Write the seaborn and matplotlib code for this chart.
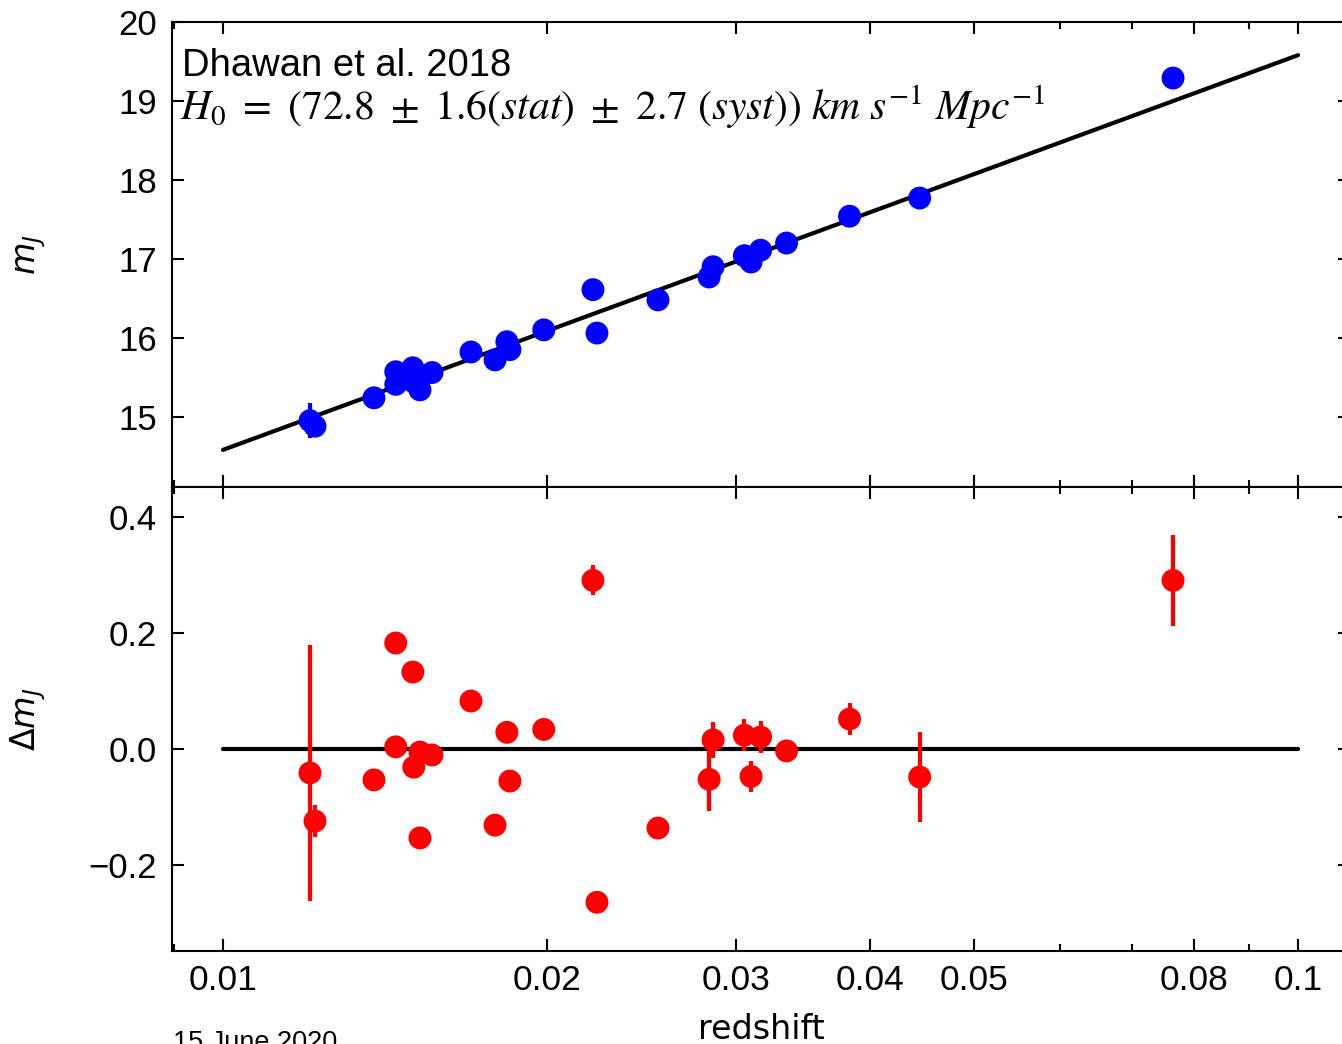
import numpy as np
import pandas as pd
import seaborn as sns
import matplotlib as mpl
mpl.use('Agg')
import matplotlib.pyplot as plt
from matplotlib.ticker import FixedLocator, FixedFormatter, NullFormatter

# redshift of each SN
z = [0.01205, 0.01218, 0.01382, 0.01448, 0.01448, 0.01502, 0.01505, 0.01525, 0.01525,
     0.01565, 0.01701, 0.01791, 0.01837, 0.01849, 0.01988, 0.02209, 0.02228, 0.02539,
     0.02833, 0.02857, 0.03055, 0.03099, 0.03163, 0.03344, 0.03827, 0.04447, 0.07651]
# apparent J-band magnitude
m_J = [14.95, 14.88, 15.24, 15.57, 15.41, 15.62, 15.44, 15.50, 15.34,
       15.56, 15.82, 15.72, 15.95, 15.85, 16.10, 16.61, 16.06, 16.48,
       16.77, 16.90, 17.04, 16.96, 17.11, 17.20, 17.54, 17.77, 19.29]
# residual from the Hubble line
dm_J = [-0.041, -0.124, -0.053, 0.183, 0.004, 0.133, -0.031, -0.005, -0.153,
        -0.010, 0.083, -0.131, 0.029, -0.055, 0.034, 0.291, -0.264, -0.136,
        -0.052, 0.016, 0.024, -0.047, 0.021, -0.003, 0.052, -0.048, 0.291]
err = [0.22, 0.028, 0.01, 0.01, 0.01, 0.01, 0.01, 0.01, 0.01,
       0.01, 0.01, 0.01, 0.01, 0.01, 0.01, 0.026, 0.01, 0.01,
       0.055, 0.031, 0.028, 0.026, 0.028, 0.01, 0.028, 0.077, 0.078]

# fitted line endpoints
line_z = [0.01, 0.1]
line_m = [14.58, 19.58]
zero_m = [0.0, 0.0]

xticks = [0.01, 0.02, 0.03, 0.04, 0.05, 0.08, 0.1]
xticklabels = ['0.01', '0.02', '0.03', '0.04', '0.05', '0.08', '0.1']
xminor = [0.009, 0.06, 0.07, 0.09]

df = pd.DataFrame({'z': z, 'm_J': m_J, 'dm_J': dm_J, 'err': err})

sns.set_style('ticks')
plt.rcParams['font.family'] = ['Liberation Sans', 'DejaVu Sans']
plt.rcParams['axes.linewidth'] = 1.5
for k in ('text.color', 'axes.labelcolor', 'xtick.color', 'ytick.color', 'axes.edgecolor'):
    plt.rcParams[k] = 'black'

fig = plt.figure(figsize=(13.42, 10.44), dpi=100)
W = 1342.0
H = 1044.0
left = 172 / W
width = (1350 - 172) / W
ax1 = fig.add_axes([left, (H - 487) / H, width, 465 / H])
ax2 = fig.add_axes([left, (H - 951) / H, width, 464 / H], sharex=ax1)

# top panel
ax1.errorbar(df.z, df.m_J, yerr=df.err, fmt='none', ecolor='blue', elinewidth=3, zorder=2)
sns.lineplot(x=line_z, y=line_m, ax=ax1, color='black', lw=3, zorder=1)
sns.scatterplot(data=df, x='z', y='m_J', ax=ax1, color='blue', s=272, edgecolor='none',
                zorder=3, legend=False)

# bottom panel
ax2.errorbar(df.z, df.dm_J, yerr=df.err, fmt='none', ecolor='red', elinewidth=3, zorder=2)
sns.lineplot(x=line_z, y=zero_m, ax=ax2, color='black', lw=3, zorder=1)
sns.scatterplot(data=df, x='z', y='dm_J', ax=ax2, color='red', s=272, edgecolor='none',
                zorder=3, legend=False)

ax1.set_xscale('log')
ax1.set_xlim(0.008967, 0.11177)
ax1.set_ylim(14.11, 20)
ax2.set_ylim(-0.348, 0.452)
ax1.set_yticks([15, 16, 17, 18, 19, 20])
ax2.set_yticks([-0.2, 0.0, 0.2, 0.4])

for ax in (ax1, ax2):
    ax.xaxis.set_major_locator(FixedLocator(xticks))
    ax.xaxis.set_minor_locator(FixedLocator(xminor))
    ax.xaxis.set_minor_formatter(NullFormatter())
    ax.tick_params(which='both', direction='in', top=True, right=True, width=1.5)
    ax.tick_params(which='major', length=8.5)
    ax.tick_params(which='minor', length=5)
    ax.tick_params(axis='y', which='major', labelsize=25, pad=11)
    ax.tick_params(axis='x', which='major', labelsize=25.5, pad=9)
    for s in ax.spines.values():
        s.set_visible(True)
        s.set_linewidth(1.5)
        s.set_color('black')

ax2.xaxis.set_major_formatter(FixedFormatter(xticklabels))
ax1.tick_params(axis='x', which='both', labelbottom=False)

ax1.set_xlabel('')
ax1.set_ylabel(r'$m_J$', fontsize=24)
ax2.set_ylabel(r'$\Delta m_J$', fontsize=24)
ax2.set_xlabel('redshift', fontsize=24, fontfamily='DejaVu Sans')
ax1.yaxis.set_label_coords(-0.105, 0.5)
ax2.yaxis.set_label_coords(-0.105, 0.5)
ax2.xaxis.set_label_coords(0.5, -0.134)

ax1.text(0.0085, 0.884, 'Dhawan et al. 2018', transform=ax1.transAxes,
         fontsize=27.5, ha='left', va='baseline')
ax1.text(0.0068, 0.789,
         r'$H_0\ =\ (72.8\ \pm\ 1.6(stat)\ \pm\ 2.7\ (syst))\ km\ s^{-1}\ Mpc^{-1}$',
         transform=ax1.transAxes, fontsize=30, ha='left', va='baseline',
         math_fontfamily='stix')

fig.text(173 / W, -0.006, '15 June 2020', fontsize=19.5, ha='left', va='baseline')

plt.savefig('out.png', dpi=100)
plt.close()
